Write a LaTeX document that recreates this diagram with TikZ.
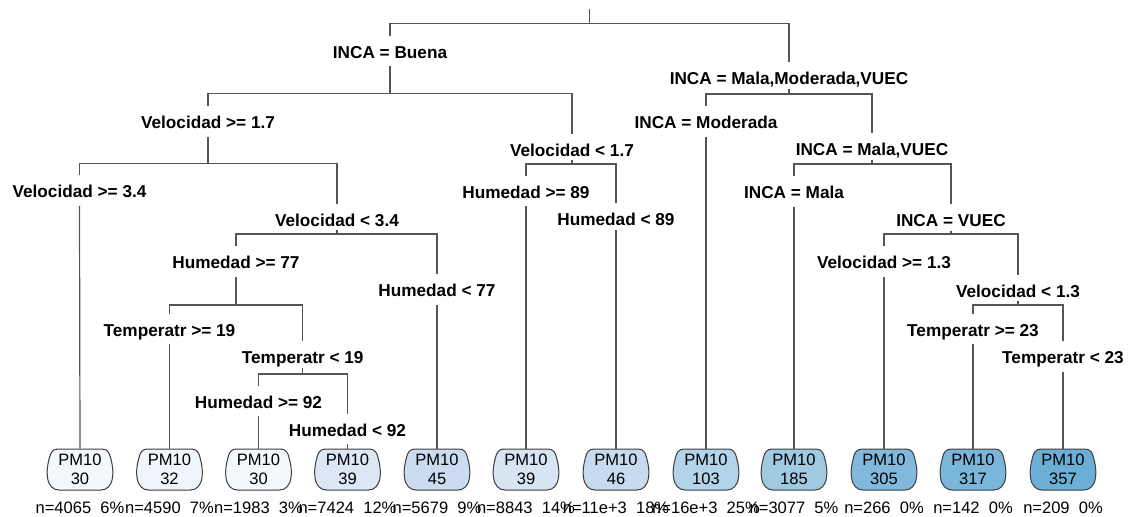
\documentclass[tikz,border=0pt]{standalone}
\usepackage{fontspec}
\setmainfont{Liberation Sans}
\pgfdeclarelayer{bg}
\pgfsetlayers{bg,main}
\definecolor{edgecol}{RGB}{85,85,85}
\definecolor{leafline}{RGB}{60,60,60}
\definecolor{cA}{HTML}{F4F8FD}
\definecolor{cB}{HTML}{F1F6FC}
\definecolor{cC}{HTML}{DBE7F5}
\definecolor{cD}{HTML}{CBDCF0}
\definecolor{cE}{HTML}{D6E4F3}
\definecolor{cF}{HTML}{C6DBEF}
\definecolor{cG}{HTML}{B3D3EA}
\definecolor{cH}{HTML}{A0CAE2}
\definecolor{cI}{HTML}{80B9DC}
\definecolor{cJ}{HTML}{7AB6DA}
\definecolor{cK}{HTML}{6BAED6}
\tikzset{
  conn/.style={draw=edgecol, line width=0.9pt},
  lab/.style={anchor=base, inner sep=0pt, font=\fontsize{12.9}{15}\selectfont\bfseries, text height=16.6pt, text depth=5.9pt},
  rlab/.style={lab, text depth=2.9pt},
  leaf/.style={inner sep=0pt, minimum width=49.5pt, minimum height=30.75pt, align=center, font=\fontsize{12.4}{14.25}\selectfont},
  nlab/.style={anchor=base, inner sep=0pt, font=\fontsize{12.4}{14.25}\selectfont},
  leafbox/.style={draw=leafline, line width=0.75pt}
}
\newcommand{\barrelat}[2]{%
  \begin{scope}[shift={(#1.center)}]
  \draw[leafbox, fill=#2] (-22,-20.5) -- (22,-20.5)
    .. controls (27,-20.5) and (29.5,-17) .. (30.5,-12)
    .. controls (32.5,-5) and (33.5,2) .. (32.5,8)
    .. controls (31.5,16) and (27,20.5) .. (21,20.5)
    -- (-21,20.5)
    .. controls (-27,20.5) and (-31.5,16) .. (-32.5,8)
    .. controls (-33.5,2) and (-32.5,-5) .. (-30.5,-12)
    .. controls (-29.5,-17) and (-27,-20.5) .. (-22,-20.5) -- cycle;
  \end{scope}}
\begin{document}
\begin{tikzpicture}[x=0.75pt, y=-0.75pt]
\useasboundingbox (0,0) rectangle (1131,517);

% split labels
\node[lab]  (Buena) at (390,58.1)   {INCA = Buena};
\node[rlab] (MMV)   at (789,84.4)   {INCA = Mala,Moderada,VUEC};
\node[lab]  (V17)   at (208,128.8)  {Velocidad >= 1.7};
\node[rlab] (Vl17)  at (572,156.1)  {Velocidad < 1.7};
\node[lab]  (Mod)   at (706,128.8)  {INCA = Moderada};
\node[rlab] (MV)    at (872,155.4)  {INCA = Mala,VUEC};
\node[lab]  (V34)   at (79.5,197.8) {Velocidad >= 3.4};
\node[rlab] (Vl34)  at (337,226.1)  {Velocidad < 3.4};
\node[lab]  (H89)   at (526,198.1)  {Humedad >= 89};
\node[rlab] (Hl89)  at (616,225.4)  {Humedad < 89};
\node[lab]  (Mala)  at (794,198.4)  {INCA = Mala};
\node[rlab] (VUEC)  at (951,226.8)  {INCA = VUEC};
\node[lab]  (H77)   at (236,268.8)  {Humedad >= 77};
\node[lab]  (Hl77)  at (437,296.8)  {Humedad < 77};
\node[lab]  (V13)   at (884,268.4)  {Velocidad >= 1.3};
\node[rlab] (Vl13)  at (1018,297.1) {Velocidad < 1.3};
\node[lab]  (T19)   at (169.5,336.1) {Temperatr >= 19};
\node[rlab] (Tl19)  at (302.7,363.8) {Temperatr < 19};
\node[lab]  (T23)   at (973,336.1)  {Temperatr >= 23};
\node[lab]  (Tl23)  at (1063,363.8) {Temperatr < 23};
\node[lab]  (H92)   at (258.5,408.1) {Humedad >= 92};
\node[lab]  (Hl92)  at (347.5,436.1) {Humedad < 92};

% leaves
\node[leaf] (L1)  at (80,469.5)    {PM10\\30};
\node[leaf] (L2)  at (169.5,469.5) {PM10\\32};
\node[leaf] (L3)  at (258.5,469.5) {PM10\\30};
\node[leaf] (L4)  at (347.5,469.5) {PM10\\39};
\node[leaf] (L5)  at (437,469.5)   {PM10\\45};
\node[leaf] (L6)  at (526,469.5)   {PM10\\39};
\node[leaf] (L7)  at (616,469.5)   {PM10\\46};
\node[leaf] (L8)  at (706,469.5)   {PM10\\103};
\node[leaf] (L9)  at (794,469.5)   {PM10\\185};
\node[leaf] (L10) at (884,469.5)   {PM10\\305};
\node[leaf] (L11) at (973,469.5)   {PM10\\317};
\node[leaf] (L12) at (1063,469.5)  {PM10\\357};

\begin{pgfonlayer}{bg}
\barrelat{L1}{cA}
\barrelat{L2}{cB}
\barrelat{L3}{cA}
\barrelat{L4}{cC}
\barrelat{L5}{cD}
\barrelat{L6}{cE}
\barrelat{L7}{cF}
\barrelat{L8}{cG}
\barrelat{L9}{cH}
\barrelat{L10}{cI}
\barrelat{L11}{cJ}
\barrelat{L12}{cK}
\end{pgfonlayer}

% counts
\node[nlab] (N1)  at (80,513)    {n=4065\ \ 6\%};
\node[nlab] (N2)  at (169.5,513) {n=4590\ \ 7\%};
\node[nlab] (N3)  at (258.5,513) {n=1983\ \ 3\%};
\node[nlab] (N4)  at (347.5,513) {n=7424\ \ 12\%};
\node[nlab] (N5)  at (437,513)   {n=5679\ \ 9\%};
\node[nlab] (N6)  at (526,513)   {n=8843\ \ 14\%};
\node[nlab] (N7)  at (616,513)   {n=11e+3\ \ 18\%};
\node[nlab] (N8)  at (706,513)   {n=16e+3\ \ 25\%};
\node[nlab] (N9)  at (794,513)   {n=3077\ \ 5\%};
\node[nlab] (N10) at (884,513)   {n=266\ \ 0\%};
\node[nlab] (N11) at (973,513)   {n=142\ \ 0\%};
\node[nlab] (N12) at (1063,513)  {n=209\ \ 0\%};

% bar coordinates
\coordinate (top) at (589.5,9);
\coordinate (b0)  at (589.5,23.3);
\coordinate (b1)  at (390,93.6);
\coordinate (b2)  at (789,94);
\coordinate (b3)  at (208,163.5);
\coordinate (b4)  at (572,164);
\coordinate (b5)  at (872,164);
\coordinate (b6)  at (337,234);
\coordinate (b7)  at (951,234);
\coordinate (b8)  at (236,305);
\coordinate (b9)  at (1018,305);
\coordinate (b10) at (302.7,374);

% connectors
\draw[conn] (top) -- (b0);
\draw[conn] (Buena.north) |- (b0) -| (MMV.north);
\draw[conn] (Buena.south) -- (b1);
\draw[conn] (V17.north) |- (b1) -| (Vl17.north);
\draw[conn] (MMV.south) -- (b2);
\draw[conn] (Mod.north) |- (b2) -| (MV.north);
\draw[conn] (V17.south) -- (b3);
\draw[conn] (V34.north) |- (b3) -| (Vl34.north);
\draw[conn] (Vl17.south) -- (b4);
\draw[conn] (H89.north) |- (b4) -| (Hl89.north);
\draw[conn] (MV.south) -- (b5);
\draw[conn] (Mala.north) |- (b5) -| (VUEC.north);
\draw[conn] (Vl34.south) -- (b6);
\draw[conn] (H77.north) |- (b6) -| (Hl77.north);
\draw[conn] (VUEC.south) -- (b7);
\draw[conn] (V13.north) |- (b7) -| (Vl13.north);
\draw[conn] (H77.south) -- (b8);
\draw[conn] (T19.north) |- (b8) -| (Tl19.north);
\draw[conn] (Vl13.south) -- (b9);
\draw[conn] (T23.north) |- (b9) -| (Tl23.north);
\draw[conn] (Tl19.south) -- (b10);
\draw[conn] (H92.north) |- (b10) -| (Hl92.north);

% leaf connectors
\draw[conn] (V34.south) -- (L1.north);
\draw[conn] (T19.south) -- (L2.north);
\draw[conn] (H92.south) -- (L3.north);
\draw[conn] (Hl92.south) -- (L4.north);
\draw[conn] (Hl77.south) -- (L5.north);
\draw[conn] (H89.south) -- (L6.north);
\draw[conn] (Hl89.south) -- (L7.north);
\draw[conn] (Mod.south) -- (L8.north);
\draw[conn] (Mala.south) -- (L9.north);
\draw[conn] (V13.south) -- (L10.north);
\draw[conn] (T23.south) -- (L11.north);
\draw[conn] (Tl23.south) -- (L12.north);
\end{tikzpicture}
\end{document}
